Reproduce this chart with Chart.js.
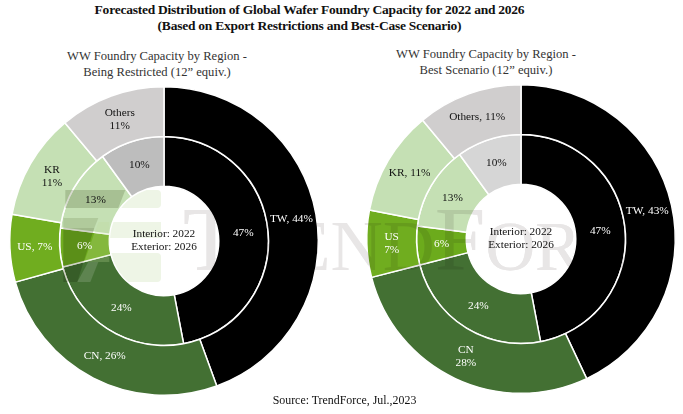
<!DOCTYPE html>
<html>
<head>
<meta charset="utf-8">
<script src="https://cdn.jsdelivr.net/npm/chart.js@4"></script>
<style>
  html, body { margin: 0; padding: 0; background: #fff; }
  body { position: relative; width: 683px; height: 414px; overflow: hidden; font-family: "Liberation Serif", serif; color: #111; }
  .txt { position: absolute; text-align: center; white-space: nowrap; }
  .wrap { position: absolute; width: 320px; height: 320px; }
  #left { left: 3.7px; top: 81px; }
  #right { left: 360.8px; top: 79.2px; }
  svg { position: absolute; left: 0; top: 0; pointer-events: none; }
</style>
</head>
<body>
<!-- watermark behind the canvases, shows through the holes and in the gap -->
<svg width="683" height="414">
  <rect x="92" y="190" width="69" height="18" rx="4" fill="#eef5e6"/>
  <rect x="92" y="222" width="69" height="16" fill="#eef5e6"/>
  <rect x="92" y="253" width="69" height="29" rx="4" fill="#eef5e6"/>
  <text x="183" y="270" font-family="Liberation Serif" font-size="91" fill="#e8e6e6">T<tspan font-size="72">REND</tspan>F<tspan font-size="69">ORCE</tspan></text>
</svg>
<div class="wrap" id="left"><canvas id="c1"></canvas></div>
<div class="wrap" id="right"><canvas id="c2"></canvas></div>
<div class="txt" style="left:0;width:619px;top:1.5px;font-size:13.5px;letter-spacing:-0.24px;font-weight:bold;line-height:16px">Forecasted Distribution of Global Wafer Foundry Capacity for 2022 and 2026<br>(Based on Export Restrictions and Best-Case Scenario)</div>
<div class="txt" style="left:57px;width:200px;top:48px;font-size:12.6px;line-height:16px;color:#333">WW Foundry Capacity by Region -<br>Being Restricted (12” equiv.)</div>
<div class="txt" style="left:386px;width:200px;top:45.5px;font-size:12.6px;line-height:16px;color:#333">WW Foundry Capacity by Region -<br>Best Scenario (12” equiv.)</div>
<div class="txt" style="left:0;width:689px;top:393px;font-size:11.9px">Source: TrendForce, Jul.,2023</div>
<script>
const regions = ['TW', 'CN', 'US', 'KR', 'Others'];
const colors = ['#000000', '#437033', '#70ad1f', '#c5e0b4', '#d0cece'];
const restrictedInnerColors = ['#000000', '#437033', '#70ad1f', '#c5e0b4', '#bdbdbd'];
const bestInnerColors = ['#000000', '#437033', '#6cab1c', '#c5e0b4', '#d6d6d6'];
const labelColors = ['#fff', '#fff', '#fff', '#111', '#111'];

const restricted2026 = [44, 26, 7, 11, 11];
const restricted2022 = [47, 24, 6, 13, 10];
const best2026 = [43, 28, 7, 11, 11];
const best2022 = [47, 24, 6, 13, 10];

const restrictedLabels = [['TW, 44%'], ['CN, 26%'], ['US, 7%'], ['KR', '11%'], ['Others', '11%']];
const bestLabels = [['TW, 43%'], ['CN', '28%'], ['US', '7%'], ['KR, 11%'], ['Others, 11%']];
const centerLabels = ['Interior: 2022', 'Exterior: 2026'];

function poly(ctx, pts, fill) {
    ctx.fillStyle = fill;
    ctx.beginPath();
    pts.forEach((p, i) => i ? ctx.lineTo(p[0], p[1]) : ctx.moveTo(p[0], p[1]));
    ctx.closePath();
    ctx.fill();
}

// watermark on top of the arcs, coords are page coords so shift by the canvas position
function drawWatermark(ctx, off) {
    ctx.save();
    ctx.translate(-off[0], -off[1]);
    ctx.globalCompositeOperation = 'multiply';
    poly(ctx, [[65, 190], [125, 190], [118, 208], [65, 208]], '#d8dbd0');
    poly(ctx, [[63, 218], [98, 218], [94, 228], [63, 228]], '#e4e6dc');
    poly(ctx, [[63, 228], [94, 228], [77, 282], [63, 282]], '#d0d3c5');
    ctx.fillStyle = '#e8e6e6';
    ctx.textBaseline = 'alphabetic';
    let x = 183;
    [['T', 91], ['REND', 72], ['F', 91], ['ORCE', 69]].forEach(part => {
        ctx.font = part[1] + 'px "Liberation Serif"';
        ctx.fillText(part[0], x, 270);
        x += ctx.measureText(part[0]).width;
    });
    ctx.globalCompositeOperation = 'source-atop';
    poly(ctx, [[98, 222], [109, 222], [109, 262], [84, 262]], 'rgba(190,220,150,0.25)');
    poly(ctx, [[88, 262], [98, 262], [90, 282], [77, 282]], 'rgba(255,255,255,0.14)');
    ctx.restore();
}

// draws the data labels on each arc and the text in the hole
const sliceLabels = {
    id: 'sliceLabels',
    afterDatasetsDraw(chart, args, opts) {
        let ctx = chart.ctx;
        drawWatermark(ctx, opts.offset);
        ctx.save();
        ctx.font = '11.3px "Liberation Serif"';
        ctx.textAlign = 'center';
        ctx.textBaseline = 'middle';
        chart.data.datasets.forEach((ds, i) => {
            chart.getDatasetMeta(i).data.forEach((arc, j) => {
                let p = arc.getCenterPoint();
                let lines = i == 0 ? opts.outer[j] : [ds.data[j] + '%'];
                ctx.fillStyle = labelColors[j];
                lines.forEach((t, k) => {
                    ctx.fillText(t, p.x, p.y + (k - (lines.length - 1) / 2) * 13);
                });
            });
        });
        let a = chart.getDatasetMeta(0).data[0];
        ctx.fillStyle = '#111';
        ctx.fillText(centerLabels[0], a.x, a.y - 6.5);
        ctx.fillText(centerLabels[1], a.x, a.y + 6.5);
        ctx.restore();
    }
};

function donut(id, outer, inner, innerColors, outerLabels, offset) {
    return new Chart(document.getElementById(id), {
        type: 'doughnut',
        plugins: [sliceLabels],
        data: {
            labels: regions,
            datasets: [
                { data: outer, backgroundColor: colors, borderColor: '#fff', borderWidth: 1.5 },
                { data: inner, backgroundColor: innerColors, borderColor: '#fff', borderWidth: 1.5 }
            ]
        },
        options: {
            responsive: true,
            maintainAspectRatio: false,
            animation: false,
            cutout: '35.5%',
            layout: { padding: 5 },
            plugins: {
                legend: { display: false },
                tooltip: { enabled: false },
                sliceLabels: { outer: outerLabels, offset: offset }
            }
        }
    });
}

donut('c1', restricted2026, restricted2022, restrictedInnerColors, restrictedLabels, [3.7, 81]);
donut('c2', best2026, best2022, bestInnerColors, bestLabels, [360.8, 79.2]);
</script>
</body>
</html>
